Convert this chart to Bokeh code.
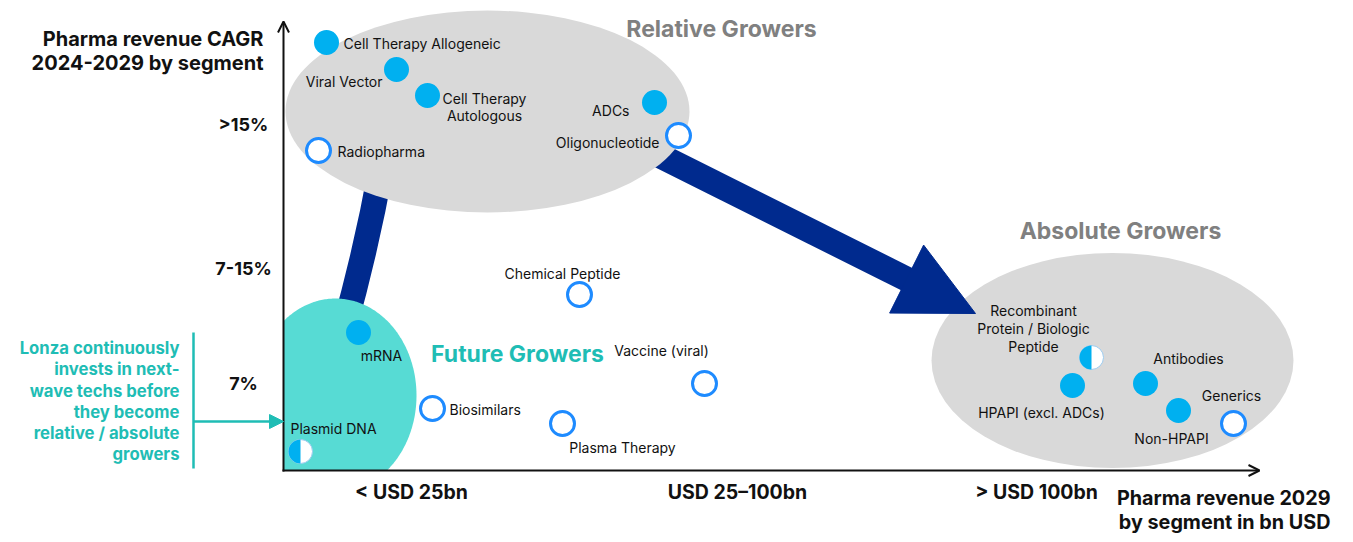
import numpy as np
from bokeh.plotting import figure
from bokeh.models import Range1d, ColumnDataSource, Arrow, OpenHead, NormalHead
from bokeh.embed import file_html
from bokeh.resources import INLINE
from bokeh.core.properties import value

# ---------------- data (positions on the chart's pixel-like grid) ----------------
filled_names = ["Cell Therapy Allogeneic", "Viral Vector", "Cell Therapy Autologous", "ADCs",
                "mRNA", "HPAPI (excl. ADCs)", "Antibodies", "Non-HPAPI"]
filled_x = [326, 396, 427, 654, 358, 1072, 1145, 1178]
filled_y = [42, 69, 95, 102, 332, 385, 383, 410]

open_names = ["Radiopharma", "Oligonucleotide", "Chemical Peptide", "Biosimilars",
              "Plasma Therapy", "Vaccine (viral)", "Generics"]
open_x = [318, 678, 579, 432, 562, 704, 1233]
open_y = [150, 135, 294, 408, 423, 383, 423]

half_names = ["Plasmid DNA", "Recombinant Protein / Biologic Peptide"]
half_x = [300, 1091]
half_y = [451, 357]

label_text = ["Cell Therapy Allogeneic", "Viral Vector", "Cell Therapy", "Autologous", "ADCs",
              "Radiopharma", "Oligonucleotide", "Chemical Peptide", "mRNA", "Vaccine (viral)",
              "Biosimilars", "Plasma Therapy", "Plasmid DNA", "Recombinant", "Protein / Biologic",
              "Peptide", "Antibodies", "HPAPI (excl. ADCs)", "Generics", "Non-HPAPI"]
label_x = [343, 382, 484, 484, 629, 337, 659, 562, 381, 661, 449, 622, 290, 1033, 1033, 1033,
           1188, 1041, 1231, 1171]
label_y = [43, 81, 98, 115, 110, 151, 142, 273, 355, 350, 409, 447, 428, 310, 328, 346, 358,
           412, 395, 438]
label_align = ["left", "right", "center", "center", "right", "left", "right", "center", "center",
               "center", "left", "center", "left", "center", "center", "center", "center",
               "center", "center", "center"]

y_ticks = [">15%", "7-15%", "7%"]
y_tick_pos = [124, 268, 383]
x_ticks = ["< USD 25bn", "USD 25\u2013100bn", "> USD 100bn"]
x_tick_pos = [411, 737, 1036]

y_title = ["Pharma revenue CAGR", "2024-2029 by segment"]
x_title = ["Pharma revenue 2029", "by segment in bn USD"]
note_lines = ["Lonza continuously", "invests in next-", "wave techs before", "they become",
              "relative / absolute", "growers"]

group_names = ["Relative Growers", "Absolute Growers", "Future Growers"]

# ---------------- styles ----------------
FONT = "Inter"
BLUE = "#00B0F0"
RING = "#1E8BFF"
NAVY = "#002A8E"
GREY_FILL = "#D9D9D9"
GREY_TXT = "#808080"
TEAL_FILL = "#57DBD4"
TEAL = "#1FBDB5"
INK = "#111111"

p = figure(width=1345, height=534, x_range=Range1d(0, 1345), y_range=Range1d(534, 0),
           x_axis_type=None, y_axis_type=None, toolbar_location=None, output_backend="svg",
           min_border=0, outline_line_color=None, background_fill_color="white",
           border_fill_color="white")

# absolute growers ellipse
p.ellipse(x=1112, y=360, width=362, height=215, fill_color=GREY_FILL, line_color=None)

# curved arrow (future -> relative)
p.quadratic(x0=343, y0=330, x1=381, y1=165, cx=366, cy=248.5, line_color=NAVY, line_width=25)

# straight arrow (relative -> absolute)
sx, sy = 640.0, 145.5
tx, ty = 975.0, 313.0
head_len, head_w = 77.0, 76.0
d = np.array([tx - sx, ty - sy]); d = d / np.linalg.norm(d)
nrm = np.array([-d[1], d[0]])
base = np.array([tx, ty]) - head_len * d
p.segment(x0=sx, y0=sy, x1=base[0] + 4 * d[0], y1=base[1] + 4 * d[1], line_color=NAVY,
          line_width=25)
hx = [tx, base[0] + head_w / 2 * nrm[0], base[0] - head_w / 2 * nrm[0]]
hy = [ty, base[1] + head_w / 2 * nrm[1], base[1] - head_w / 2 * nrm[1]]
p.patch(hx, hy, fill_color=NAVY, line_color=NAVY)

# relative growers ellipse
p.ellipse(x=487, y=111, width=404, height=202, fill_color=GREY_FILL, line_color=None)

# future growers ellipse, clipped to the axes
AX_X, AX_Y = 283, 470
t = np.linspace(0, 2 * np.pi, 400)
ex = np.clip(335 + 81 * np.cos(t), AX_X, None)
ey = np.clip(395 + 97 * np.sin(t), None, AX_Y)
p.patch(ex, ey, fill_color=TEAL_FILL, line_color=None)

# axes
p.add_layout(Arrow(end=OpenHead(size=11, line_width=2, line_color=INK), x_start=AX_X,
                   y_start=AX_Y + 1, x_end=AX_X, y_end=21, line_width=2, line_color=INK))
p.add_layout(Arrow(end=OpenHead(size=11, line_width=2, line_color=INK), x_start=AX_X - 1,
                   y_start=AX_Y, x_end=1259, y_end=AX_Y, line_width=2, line_color=INK))

# teal note bracket and arrow
p.segment(x0=193, y0=332, x1=193, y1=468, line_color=TEAL, line_width=2.5)
p.add_layout(Arrow(end=NormalHead(size=14, fill_color=TEAL, line_color=TEAL), x_start=193,
                   y_start=421, x_end=283, y_end=421, line_width=2.5, line_color=TEAL))

# markers
p.scatter(x=filled_x, y=filled_y, size=25, fill_color=BLUE, line_color=None)
p.scatter(x=open_x, y=open_y, size=24, fill_color="white", line_color=RING, line_width=3)
p.scatter(x=half_x, y=half_y, size=24, fill_color="white", line_color="#9CCBEF", line_width=1)
p.wedge(x=half_x, y=half_y, radius=12, start_angle=np.pi / 2, end_angle=3 * np.pi / 2,
        fill_color=BLUE, line_color=None)

# point labels
lsrc = ColumnDataSource(dict(x=label_x, y=label_y, text=label_text, align=label_align))
p.text(x="x", y="y", text="text", text_align="align", source=lsrc, text_baseline="middle",
       text_font=value(FONT), text_font_size="14px", text_color=INK)

# group titles
p.text(x=[721, 1120], y=[28, 230], text=group_names[:2], text_align="center",
       text_baseline="middle", text_font=value(FONT), text_font_size="23px",
       text_font_style="bold", text_color=GREY_TXT)
p.text(x=[517], y=[353], text=group_names[2:], text_align="center", text_baseline="middle",
       text_font=value(FONT), text_font_size="23px", text_font_style="bold", text_color=TEAL)

# axis texts
p.text(x=[243] * 3, y=y_tick_pos, text=y_ticks, text_align="center", text_baseline="middle",
       text_font=value(FONT), text_font_size="18px", text_font_style="bold", text_color=INK)
p.text(x=x_tick_pos, y=[491] * 3, text=x_ticks, text_align="center", text_baseline="middle",
       text_font=value(FONT), text_font_size="19.5px", text_font_style="bold", text_color=INK)
p.text(x=[263, 263], y=[38, 62], text=y_title, text_align="right", text_baseline="middle",
       text_font=value(FONT), text_font_size="20px", text_font_style="bold", text_color=INK)
p.text(x=[1330, 1330], y=[497, 521], text=x_title, text_align="right", text_baseline="middle",
       text_font=value(FONT), text_font_size="19.8px", text_font_style="bold", text_color=INK)
p.text(x=[179] * 6, y=[347, 368, 390, 411, 432, 453], text=note_lines, text_align="right",
       text_baseline="middle", text_font=value(FONT), text_font_size="16.7px",
       text_font_style="bold", text_color=TEAL)

open("out.html", "w").write(file_html(p, INLINE))
